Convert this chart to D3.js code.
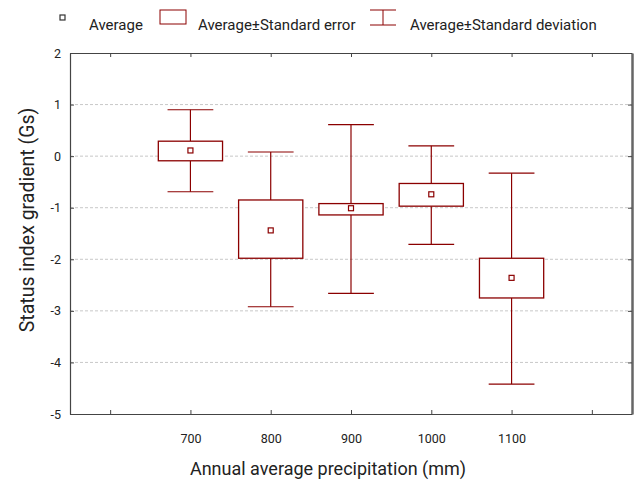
<!DOCTYPE html>
<html>
<head>
<meta charset="utf-8">
<script src="https://cdn.jsdelivr.net/npm/d3@7"></script>
<style>
  body { margin: 0; background: #fff; }
  text { font-family: Roboto, "Noto Sans", sans-serif; fill: #222; }
</style>
</head>
<body>
<svg id="chart" width="639" height="480"></svg>
<script>
// categories (blank slots at both ends, as in the original axis)
var categories = ["", "700", "800", "900", "1000", "1100", " "];
var precip = ["700", "800", "900", "1000", "1100"];
var means   = [0.11, -1.44, -1.01, -0.74, -2.36];
var seLow   = [-0.09, -1.98, -1.14, -0.97, -2.75];
var seHigh  = [0.29, -0.85, -0.92, -0.53, -1.98];
var sdLow   = [-0.69, -2.92, -2.66, -1.71, -4.42];
var sdHigh  = [0.90, 0.08, 0.61, 0.20, -0.33];
var yTicks  = [2, 1, 0, -1, -2, -3, -4, -5];

var red = "#8b0000";
var margin = {top: 53, right: 7, bottom: 66, left: 70};
var width = 639 - margin.left - margin.right,
    height = 480 - margin.top - margin.bottom;

var svg = d3.select("#chart");
var g = svg.append("g")
    .attr("transform", "translate(" + margin.left + "," + margin.top + ")");

var x = d3.scalePoint().domain(categories).range([0, width]).padding(0.5);
var step = x.step();
var y = d3.scaleLinear().domain([-5, 2]).range([height, 0]);

// grid lines
g.selectAll(".grid").data(yTicks.filter(function(d) { return d > -5 && d < 2; }))
  .enter().append("line")
    .attr("x1", 0).attr("x2", width)
    .attr("y1", function(d) { return y(d); })
    .attr("y2", function(d) { return y(d); })
    .attr("stroke", "#c8c8c8")
    .attr("stroke-dasharray", "3,2");

// axes
var xAxis = g.append("g").attr("transform", "translate(0," + height + ")")
    .call(d3.axisBottom(x).tickSizeInner(-4).tickSizeOuter(0).tickPadding(20));
var xTop = g.append("g")
    .call(d3.axisTop(x).tickSizeInner(-4).tickSizeOuter(0).tickFormat(""));
var yAxis = g.append("g")
    .call(d3.axisLeft(y).tickValues(yTicks).tickSizeInner(-4).tickSizeOuter(0).tickPadding(9)
      .tickFormat(function(d) { return String(d); }));
var yRight = g.append("g").attr("transform", "translate(" + width + ",0)")
    .call(d3.axisRight(y).tickValues(yTicks).tickSizeInner(-4).tickSizeOuter(0).tickFormat(""));

[xAxis, xTop, yAxis, yRight].forEach(function(a) {
  a.selectAll("path.domain").attr("stroke", "#444").attr("stroke-width", 1.2);
  a.selectAll(".tick line").attr("stroke", "#444");
  a.selectAll("text").style("font-size", "12.5px").attr("fill", "#222")
    .style("font-family", "Roboto, 'Noto Sans', sans-serif");
});
yRight.select("path.domain").attr("stroke", "#666").attr("stroke-width", 2.5);

// boxes
var boxW = step * 0.8, capW = step * 0.57, m = 5;
var grp = g.selectAll(".box").data(precip).enter().append("g")
    .attr("transform", function(d) { return "translate(" + x(d) + ",0)"; });

grp.append("line")
    .attr("y1", function(d, i) { return y(sdHigh[i]); })
    .attr("y2", function(d, i) { return y(seHigh[i]); })
    .attr("stroke", red).attr("stroke-width", 1.2);
grp.append("line")
    .attr("y1", function(d, i) { return y(seLow[i]); })
    .attr("y2", function(d, i) { return y(sdLow[i]); })
    .attr("stroke", red).attr("stroke-width", 1.2);
grp.append("line")
    .attr("x1", -capW / 2).attr("x2", capW / 2)
    .attr("y1", function(d, i) { return y(sdHigh[i]); })
    .attr("y2", function(d, i) { return y(sdHigh[i]); })
    .attr("stroke", red).attr("stroke-width", 1.2);
grp.append("line")
    .attr("x1", -capW / 2).attr("x2", capW / 2)
    .attr("y1", function(d, i) { return y(sdLow[i]); })
    .attr("y2", function(d, i) { return y(sdLow[i]); })
    .attr("stroke", red).attr("stroke-width", 1.2);
grp.append("rect")
    .attr("x", -boxW / 2).attr("width", boxW)
    .attr("y", function(d, i) { return y(seHigh[i]); })
    .attr("height", function(d, i) { return y(seLow[i]) - y(seHigh[i]); })
    .attr("fill", "#fff").attr("stroke", red).attr("stroke-width", 1.3);
grp.append("rect")
    .attr("x", -m / 2).attr("width", m).attr("height", m)
    .attr("y", function(d, i) { return y(means[i]) - m / 2; })
    .attr("fill", "#fff").attr("stroke", red).attr("stroke-width", 1.2);

// axis titles
svg.append("text")
    .attr("x", 328).attr("y", 475)
    .attr("text-anchor", "middle").style("font-size", "18px")
    .text("Annual average precipitation (mm)");
svg.append("text")
    .attr("transform", "translate(34,220) rotate(-90)")
    .attr("text-anchor", "middle").style("font-size", "19.5px")
    .text("Status index gradient (Gs)");

// legend
var lg = svg.append("g");
lg.append("rect").attr("x", 60).attr("y", 15).attr("width", 5).attr("height", 5)
    .attr("fill", "#fff").attr("stroke", "#333").attr("stroke-width", 1.2);
lg.append("text").attr("x", 89).attr("y", 30).style("font-size", "15px").text("Average");
lg.append("rect").attr("x", 160).attr("y", 10).attr("width", 26).attr("height", 14)
    .attr("fill", "#fff").attr("stroke", red).attr("stroke-width", 1);
lg.append("text").attr("x", 198).attr("y", 30).style("font-size", "15px").text("Average±Standard error");
lg.append("line").attr("x1", 370).attr("x2", 396).attr("y1", 10).attr("y2", 10).attr("stroke", red);
lg.append("line").attr("x1", 370).attr("x2", 396).attr("y1", 25).attr("y2", 25).attr("stroke", red);
lg.append("line").attr("x1", 383).attr("x2", 383).attr("y1", 10).attr("y2", 25).attr("stroke", red);
lg.append("text").attr("x", 410).attr("y", 30).style("font-size", "15px").text("Average±Standard deviation");
</script>
</body>
</html>
